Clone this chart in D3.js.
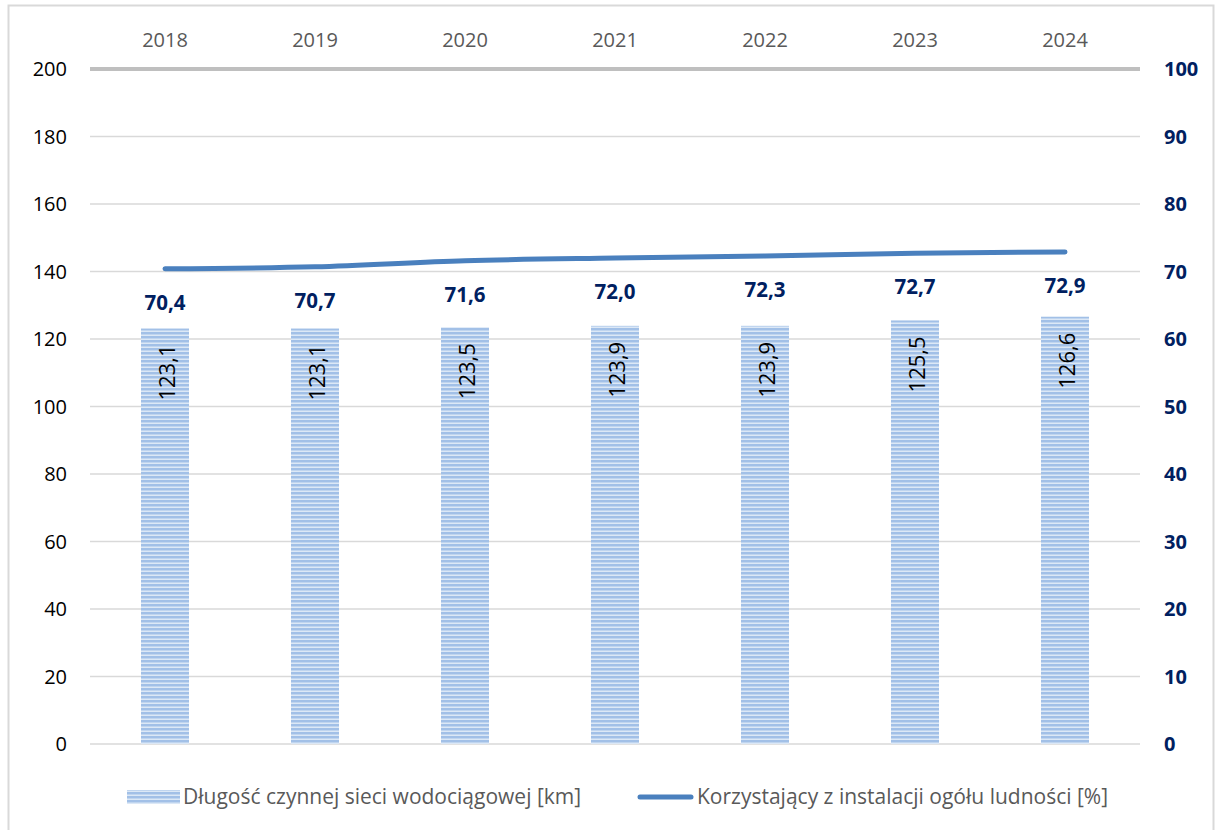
<!DOCTYPE html>
<html><head><meta charset="utf-8">
<script src="https://cdn.jsdelivr.net/npm/d3@7"></script>
<style>body{margin:0;background:#fff}svg{display:block;font-family:"Open Sans",sans-serif}</style>
</head><body>
<svg id="c" width="1216" height="830"></svg>
<script>
const years = ["2018","2019","2020","2021","2022","2023","2024"];
const lengthKm = [123.1,123.1,123.5,123.9,123.9,125.5,126.6];
const usersPct = [70.4,70.7,71.6,72.0,72.3,72.7,72.9];
const leftTicks = [0,20,40,60,80,100,120,140,160,180,200];
const rightTicks = [0,10,20,30,40,50,60,70,80,90,100];
const seriesNames = ["Długość czynnej sieci wodociągowej [km]","Korzystający z instalacji ogółu ludności [%]"];

const fmt = v => d3.format(".1f")(v).replace(".", ",");
const svg = d3.select("#c");
const defs = svg.append("defs");
const pat = defs.append("pattern").attr("id","stripes").attr("patternUnits","userSpaceOnUse")
  .attr("width",8).attr("height",4);
pat.append("rect").attr("width",8).attr("height",4).attr("fill","#dce8f6");
pat.append("rect").attr("width",8).attr("height",2).attr("y",0).attr("fill","#a2c0e7");
pat.append("rect").attr("width",8).attr("height",1).attr("y",2).attr("fill","#c0d5ef");

// frame
svg.append("rect").attr("x",8.5).attr("y",5.5).attr("width",1205).attr("height",840)
  .attr("fill","none").attr("stroke","#d9d9d9").attr("stroke-width",2);

const x = d3.scaleBand().domain(years).range([90,1140]);
const yL = d3.scaleLinear().domain([0,200]).range([744,69]);
const yR = d3.scaleLinear().domain([0,100]).range([744,69]);

// gridlines
svg.append("g").selectAll("line").data(leftTicks.filter(t=>t<200)).join("line")
  .attr("x1",90).attr("x2",1140).attr("y1",d=>yL(d)).attr("y2",d=>yL(d))
  .attr("stroke","#d9d9d9").attr("stroke-width",1.5);
svg.append("line").attr("x1",90).attr("x2",1140).attr("y1",yL(200)).attr("y2",yL(200))
  .attr("stroke","#bfbfbf").attr("stroke-width",4);

// left axis labels
svg.append("g").selectAll("text").data(leftTicks).join("text")
  .attr("x",67).attr("y",d=>yL(d)).attr("dy","0.35em").attr("text-anchor","end")
  .attr("font-size",20).attr("fill","#000").text(d=>d);
// right axis labels
svg.append("g").selectAll("text").data(rightTicks).join("text")
  .attr("x",1164).attr("y",d=>yR(d)).attr("dy","0.35em").attr("text-anchor","start")
  .attr("font-size",20).attr("font-weight","bold").attr("fill","#002060").text(d=>d);
// top category labels
svg.append("g").selectAll("text").data(years).join("text")
  .attr("x",d=>x(d)+x.bandwidth()/2).attr("y",40).attr("dy","0.35em").attr("text-anchor","middle")
  .attr("font-size",20).attr("fill","#595959").text(d=>d);

// bars
const bw = 48;
svg.append("g").selectAll("rect").data(years).join("rect")
  .attr("x",(d)=>x(d)+x.bandwidth()/2-bw/2).attr("width",bw)
  .attr("y",(d,i)=>yL(lengthKm[i])).attr("height",(d,i)=>yL(0)-yL(lengthKm[i]))
  .attr("fill","url(#stripes)");
// bar labels
svg.append("g").selectAll("text").data(years).join("text")
  .attr("transform",(d,i)=>`translate(${x(d)+x.bandwidth()/2+2},${yL(lengthKm[i])+16}) rotate(-90)`)
  .attr("text-anchor","end").attr("dy","0.35em").attr("font-size",22).attr("fill","#000")
  .text((d,i)=>fmt(lengthKm[i]));

// line
const line = d3.line().x((d,i)=>x(years[i])+x.bandwidth()/2).y(d=>yR(d)).curve(d3.curveMonotoneX);
svg.append("path").attr("d",line(usersPct)).attr("fill","none").attr("stroke","#4a80be")
  .attr("stroke-width",5).attr("stroke-linecap","round");
svg.append("g").selectAll("text").data(usersPct).join("text")
  .attr("x",(d,i)=>x(years[i])+x.bandwidth()/2).attr("y",d=>yR(d)+34).attr("dy","0.35em")
  .attr("text-anchor","middle").attr("font-size",20.5).attr("font-weight","bold").attr("fill","#002060")
  .text(d=>fmt(d));

// legend
const lg = svg.append("g");
lg.append("rect").attr("x",127).attr("y",790).attr("width",53).attr("height",14).attr("fill","url(#stripes)");
lg.append("text").attr("x",183).attr("y",797).attr("dy","0.35em").attr("font-size",21).attr("fill","#595959").text(seriesNames[0]);
lg.append("line").attr("x1",640).attr("x2",691).attr("y1",797).attr("y2",797).attr("stroke","#4a80be").attr("stroke-width",5).attr("stroke-linecap","round");
lg.append("text").attr("x",697).attr("y",797).attr("dy","0.35em").attr("font-size",21).attr("fill","#595959").text(seriesNames[1]);
</script>
</body></html>
